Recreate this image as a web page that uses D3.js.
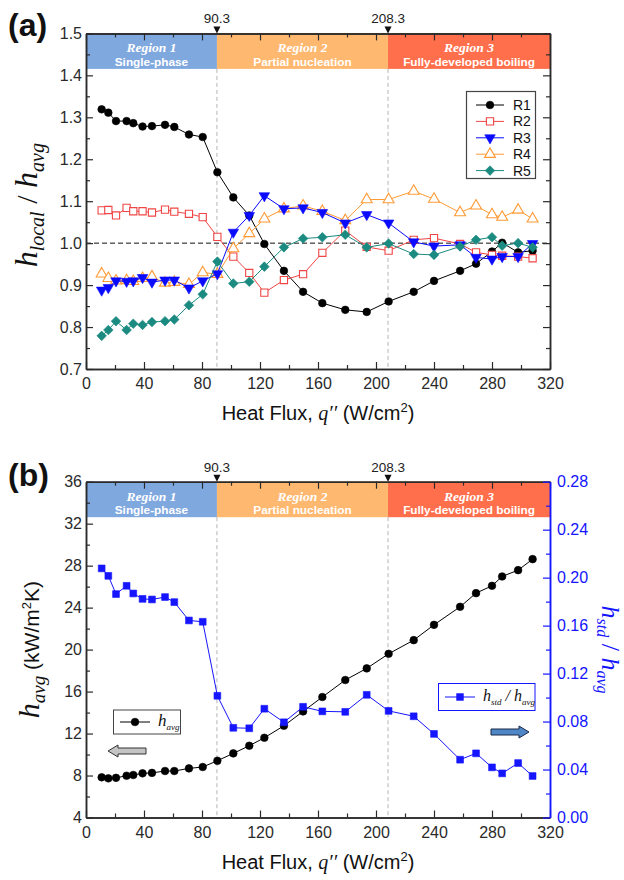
<!DOCTYPE html>
<html><head><meta charset="utf-8">
<script src="https://cdn.jsdelivr.net/npm/d3@7"></script>
<style>body{margin:0;background:#fff}svg{display:block}</style>
</head><body>
<svg id="chart" width="624" height="880"></svg>
<script>
// ---------------- data ----------------
const heatFlux = [10.8,15.4,20.7,28,32.6,39,45.5,54.5,60.9,71,80.5,90.6,101.6,112.6,123,136.5,149.7,163,178.8,193.6,208.7,226,240,258,269,280,287,298,308];
const r1 = [1.319,1.311,1.291,1.291,1.286,1.278,1.279,1.282,1.277,1.259,1.253,1.169,1.109,1.066,0.998,0.934,0.884,0.857,0.841,0.836,0.861,0.884,0.910,0.934,0.951,0.980,1.001,0.978,0.982];
const r2 = [1.078,1.079,1.066,1.084,1.076,1.076,1.073,1.080,1.075,1.070,1.062,1.015,0.968,0.929,0.882,0.912,0.926,0.977,1.030,0.991,0.982,1.008,1.012,0.998,0.978,0.972,0.970,0.968,0.964];
const r3 = [0.888,0.894,0.910,0.909,0.910,0.918,0.907,0.912,0.912,0.893,0.910,0.927,1.026,1.066,1.113,1.082,1.084,1.073,1.048,1.068,1.048,1.003,0.993,0.996,0.966,0.962,0.968,0.968,0.999];
const r4 = [0.927,0.916,0.910,0.911,0.909,0.916,0.920,0.905,0.907,0.902,0.930,0.926,0.987,1.023,1.058,1.082,1.089,1.076,1.054,1.104,1.104,1.124,1.105,1.073,1.089,1.068,1.062,1.079,1.058];
const r5 = [0.779,0.793,0.814,0.793,0.808,0.805,0.812,0.814,0.818,0.852,0.878,0.956,0.904,0.908,0.944,0.990,1.011,1.014,1.020,0.990,0.999,0.974,0.972,0.992,1.008,1.014,0.994,1.000,0.990];
const hAvg = [7.83,7.73,7.78,7.98,8.05,8.21,8.25,8.43,8.43,8.68,8.81,9.41,10.11,10.84,11.60,12.74,14.11,15.48,17.10,18.21,19.60,20.90,22.36,24.08,25.38,26.08,26.97,27.57,28.62];
const hStdRatio = [0.2077,0.2015,0.1863,0.1932,0.1868,0.1823,0.1818,0.1838,0.1796,0.1643,0.1632,0.1015,0.0748,0.0744,0.0907,0.0794,0.0923,0.0885,0.0881,0.1023,0.0889,0.0844,0.0697,0.0482,0.0535,0.0418,0.0368,0.0454,0.0346];

const seriesNames = ["R1","R2","R3","R4","R5"];
const regionBounds = [0, 90.3, 208.3, 320];
const boundaryLabels = ["90.3","208.3"];
const regionTitles = ["Region 1","Region 2","Region 3"];
const regionNames = ["Single-phase","Partial nucleation","Fully-developed boiling"];
const xTicks = [0,40,80,120,160,200,240,280,320];
const ratioTicks = [0.7,0.8,0.9,1.0,1.1,1.2,1.3,1.4,1.5];
const hTicks = [4,8,12,16,20,24,28,32,36];
const stdTicks = [0,0.04,0.08,0.12,0.16,0.20,0.24,0.28];

// ---------------- styles ----------------
const FONT = "'Liberation Sans', Arial, sans-serif";
const SERIF = "'Liberation Serif', 'Times New Roman', serif";
const regionColors = ["#7fa8df","#ffb86f","#ff6f4c"];
const seriesStyle = [
  {color:"#000000", type:d3.symbolCircle, size:46, fill:true, rot:0},
  {color:"#f04545", type:d3.symbolSquare, size:52, fill:false, rot:0},
  {color:"#0a0aff", type:d3.symbolTriangle, size:48, fill:true, rot:180},
  {color:"#ff9a35", type:d3.symbolTriangle, size:52, fill:false, rot:0},
  {color:"#1b8a80", type:d3.symbolSquare, size:46, fill:true, rot:45}
];
const BLUE = "#1515ff";
const AXIS = "#2a2a2a";

const svg = d3.select("#chart");
const x = d3.scaleLinear().domain([0,320]).range([86,550]);
const xMinor = d3.range(20,320,40);

function styleAxis(sel, color){
  sel.select(".domain").attr("stroke",color).attr("stroke-width",1.5);
  sel.selectAll(".tick line").attr("stroke",color).attr("stroke-width",1.2);
  sel.selectAll(".tick text").attr("font-family",FONT).attr("font-size",16).attr("fill",color);
}

function drawBackground(top, bottom){
  const bandH = 35.5;
  const regions = regionTitles.map((t,i)=>({t, n:regionNames[i], a:regionBounds[i], b:regionBounds[i+1], c:regionColors[i]}));
  const g = svg.append("g");
  g.selectAll("rect").data(regions).join("rect")
    .attr("x",d=>x(d.a)).attr("y",top).attr("width",d=>x(d.b)-x(d.a)).attr("height",bandH)
    .attr("fill",d=>d.c);
  g.selectAll("text.rt").data(regions).join("text").attr("class","rt")
    .attr("x",d=>(x(d.a)+x(d.b))/2).attr("y",top+19).attr("text-anchor","middle")
    .attr("font-family",SERIF).attr("font-style","italic").attr("font-weight","bold")
    .attr("font-size",13.5).attr("fill","#fff").text(d=>d.t);
  g.selectAll("text.rn").data(regions).join("text").attr("class","rn")
    .attr("x",d=>(x(d.a)+x(d.b))/2).attr("y",top+32.5).attr("text-anchor","middle")
    .attr("font-family",FONT).attr("font-weight","bold")
    .attr("font-size",11.8).attr("fill","#fff").text(d=>d.n);
  const bounds = regionBounds.slice(1,3);
  g.selectAll("line.vd").data(bounds).join("line").attr("class","vd")
    .attr("x1",d=>x(d)).attr("x2",d=>x(d)).attr("y1",top+bandH).attr("y2",bottom)
    .attr("stroke","#b4b4b4").attr("stroke-width",1).attr("stroke-dasharray","4,3");
  g.selectAll("path.bm").data(bounds).join("path").attr("class","bm")
    .attr("d",d=>`M${x(d)-3.5},${top-7}L${x(d)+3.5},${top-7}L${x(d)},${top}Z`).attr("fill","#111");
  g.selectAll("text.bl").data(bounds).join("text").attr("class","bl")
    .attr("x",d=>x(d)).attr("y",top-10).attr("text-anchor","middle")
    .attr("font-family",FONT).attr("font-size",13.5).attr("fill","#222")
    .text((d,i)=>boundaryLabels[i]);
}

function drawXAxes(top, bottom){
  const gb = svg.append("g").attr("transform",`translate(0,${bottom})`)
    .call(d3.axisBottom(x).tickValues(xTicks).tickSize(-7).tickSizeOuter(0).tickPadding(9).tickFormat(d3.format("d")));
  styleAxis(gb, AXIS);
  const gbm = svg.append("g").attr("transform",`translate(0,${bottom})`)
    .call(d3.axisBottom(x).tickValues(xMinor).tickSize(-4).tickSizeOuter(0).tickFormat(""));
  styleAxis(gbm, AXIS);
  const gt = svg.append("g").attr("transform",`translate(0,${top})`)
    .call(d3.axisTop(x).tickValues(xTicks).tickSize(-7).tickSizeOuter(0).tickFormat(""));
  styleAxis(gt, AXIS);
  const gtm = svg.append("g").attr("transform",`translate(0,${top})`)
    .call(d3.axisTop(x).tickValues(xMinor).tickSize(-4).tickSizeOuter(0).tickFormat(""));
  styleAxis(gtm, AXIS);
  // x title
  const t = svg.append("text").attr("x",318).attr("y",bottom+51).attr("text-anchor","middle")
    .attr("font-family",FONT).attr("font-size",20).attr("fill","#111");
  t.append("tspan").text("Heat Flux, ");
  t.append("tspan").attr("font-family",SERIF).attr("font-style","italic").text("q\u2032\u2032");
  t.append("tspan").text(" (W/cm");
  t.append("tspan").attr("font-size",13).attr("dy",-8).text("2");
  t.append("tspan").attr("dy",8).text(")");
}

function drawYAxis(scale, ticks, minor, fmt, side, color, labels){
  const xPos = side==="left" ? 86 : 550;
  const ax = side==="left" ? d3.axisLeft(scale) : d3.axisRight(scale);
  const g = svg.append("g").attr("transform",`translate(${xPos},0)`)
    .call(ax.tickValues(ticks).tickSize(-7).tickSizeOuter(0).tickPadding(side==="left"?4:7).tickFormat(labels?d3.format(fmt):""));
  styleAxis(g, color);
  const ax2 = side==="left" ? d3.axisLeft(scale) : d3.axisRight(scale);
  const g2 = svg.append("g").attr("transform",`translate(${xPos},0)`)
    .call(ax2.tickValues(minor).tickSize(-4).tickSizeOuter(0).tickFormat(""));
  styleAxis(g2, color);
}

function drawMarker(sel, st){
  sel.append("path").attr("d",d3.symbol().type(st.type).size(st.size)())
    .attr("transform",`rotate(${st.rot})`)
    .attr("fill",st.fill?st.color:"#fff").attr("stroke",st.color).attr("stroke-width",st.fill?0.6:1.1);
}

function drawSeries(values, scale, st){
  const pts = heatFlux.map((q,i)=>[q, values[i]]);
  svg.append("path").datum(pts)
    .attr("d",d3.line().x(d=>x(d[0])).y(d=>scale(d[1])))
    .attr("fill","none").attr("stroke",st.color).attr("stroke-width",1);
  const g = svg.append("g");
  pts.forEach(p=>{
    const m = g.append("g").attr("transform",`translate(${x(p[0])},${scale(p[1])})`);
    drawMarker(m, st);
  });
}

// ================= PANEL (a) =================
const topA = 33.4, botA = 369;
const yA = d3.scaleLinear().domain([0.7,1.5]).range([botA, topA]);
drawBackground(topA, botA);
svg.append("line").attr("x1",86).attr("x2",550).attr("y1",yA(1.0)).attr("y2",yA(1.0))
  .attr("stroke","#111").attr("stroke-width",1).attr("stroke-dasharray","5,3");
const seriesA = [r1,r2,r3,r4,r5];
[0,1,3,2,4].forEach(i=>drawSeries(seriesA[i], yA, seriesStyle[i]));
drawXAxes(topA, botA);
const ratioMinor = d3.range(0.75,1.5,0.1);
drawYAxis(yA, ratioTicks, ratioMinor, ".1f", "left", AXIS, true);
drawYAxis(yA, ratioTicks, ratioMinor, ".1f", "right", AXIS, false);

// legend (a)
const legA = svg.append("g");
legA.append("rect").attr("x",466.5).attr("y",91.5).attr("width",69).attr("height",87)
  .attr("fill","#fff").attr("stroke","#444").attr("stroke-width",1.2);
seriesNames.forEach((n,i)=>{
  const yy = 105 + i*16.4;
  const st = seriesStyle[i];
  legA.append("line").attr("x1",476).attr("x2",504).attr("y1",yy).attr("y2",yy).attr("stroke",st.color).attr("stroke-width",1);
  drawMarker(legA.append("g").attr("transform",`translate(490,${yy})`), st);
  legA.append("text").attr("x",513).attr("y",yy+5).attr("font-family",FONT).attr("font-size",14).attr("fill","#111").text(n);
});

// y title (a)
const tA = svg.append("text").attr("transform",`translate(37,${(topA+botA)/2 + 4}) rotate(-90)`)
  .attr("text-anchor","middle").attr("font-family",SERIF).attr("font-style","italic").attr("fill","#111");
tA.append("tspan").attr("font-size",32).text("h");
tA.append("tspan").attr("font-size",20).attr("dy",7).text("local");
tA.append("tspan").attr("font-size",30).attr("dy",-7).attr("font-style","normal").text(" / ");
tA.append("tspan").attr("font-size",32).text("h");
tA.append("tspan").attr("font-size",20).attr("dy",7).text("avg");

svg.append("text").attr("x",8).attr("y",36).attr("font-family",FONT).attr("font-weight","bold")
  .attr("font-size",32).attr("fill","#111").text("(a)");

// ================= PANEL (b) =================
const topB = 481.7, botB = 817.5;
const yB = d3.scaleLinear().domain([4,36]).range([botB, topB]);
const yR = d3.scaleLinear().domain([0,0.28]).range([botB, topB]);
drawBackground(topB, botB);
drawSeries(hAvg, yB, {color:"#000", type:d3.symbolCircle, size:46, fill:true, rot:0});
drawSeries(hStdRatio, yR, {color:BLUE, type:d3.symbolSquare, size:46, fill:true, rot:0});
drawXAxes(topB, botB);
drawYAxis(yB, hTicks, d3.range(6,36,4), "d", "left", AXIS, true);
drawYAxis(yR, stdTicks, d3.range(0.02,0.28,0.04), ".2f", "right", BLUE, true);

// legend (b) left
const lb = svg.append("g");
lb.append("rect").attr("x",113.5).attr("y",710).attr("width",67).attr("height",24)
  .attr("fill","#fff").attr("stroke","#444").attr("stroke-width",1);
lb.append("line").attr("x1",120).attr("x2",150).attr("y1",722).attr("y2",722).attr("stroke","#000");
drawMarker(lb.append("g").attr("transform","translate(135,722)"), {color:"#000", type:d3.symbolCircle, size:46, fill:true, rot:0});
const lbt = lb.append("text").attr("x",158).attr("y",726).attr("font-family",SERIF).attr("font-style","italic").attr("fill","#111");
lbt.append("tspan").attr("font-size",17).text("h");
lbt.append("tspan").attr("font-size",9).attr("dy",4).text("avg");
lb.append("path").attr("d","M108,751 L118,745 L118,748 L146,748 L146,754 L118,754 L118,757 Z")
  .attr("fill","#c4c4c4").attr("stroke","#333").attr("stroke-width",1);

// legend (b) right
const rb = svg.append("g");
rb.append("rect").attr("x",438.5).attr("y",683.5).attr("width",96.5).attr("height",27)
  .attr("fill","#fff").attr("stroke",BLUE).attr("stroke-width",1);
rb.append("line").attr("x1",445).attr("x2",475).attr("y1",697).attr("y2",697).attr("stroke",BLUE);
drawMarker(rb.append("g").attr("transform","translate(460,697)"), {color:BLUE, type:d3.symbolSquare, size:46, fill:true, rot:0});
const rbt = rb.append("text").attr("x",483).attr("y",701).attr("font-family",SERIF).attr("font-style","italic").attr("fill","#111");
rbt.append("tspan").attr("font-size",16).text("h");
rbt.append("tspan").attr("font-size",9).attr("dy",4).text("std");
rbt.append("tspan").attr("font-size",16).attr("dy",-4).text(" / h");
rbt.append("tspan").attr("font-size",9).attr("dy",4).text("avg");
rb.append("path").attr("d","M529,732 L519,726 L519,729 L491,729 L491,735 L519,735 L519,738 Z")
  .attr("fill","#4f86c6").attr("stroke","#1a2a4a").attr("stroke-width",1);

// y title (b) left
const tB = svg.append("text").attr("transform",`translate(39,${(topB+botB)/2}) rotate(-90)`)
  .attr("text-anchor","middle").attr("fill","#111");
tB.append("tspan").attr("font-family",SERIF).attr("font-style","italic").attr("font-size",30).text("h");
tB.append("tspan").attr("font-family",SERIF).attr("font-style","italic").attr("font-size",19).attr("dy",6).text("avg");
tB.append("tspan").attr("font-family",FONT).attr("font-size",21).attr("dy",-6).text(" (kW/m");
tB.append("tspan").attr("font-family",FONT).attr("font-size",13).attr("dy",-8).text("2");
tB.append("tspan").attr("font-family",FONT).attr("font-size",21).attr("dy",8).text("K)");

// y title (b) right
const tR = svg.append("text").attr("transform",`translate(602,${(topB+botB)/2}) rotate(90)`)
  .attr("text-anchor","middle").attr("font-family",SERIF).attr("font-style","italic").attr("fill",BLUE);
tR.append("tspan").attr("font-size",26).text("h");
tR.append("tspan").attr("font-size",16).attr("dy",5).text("std");
tR.append("tspan").attr("font-size",26).attr("dy",-5).attr("font-style","normal").text(" / ");
tR.append("tspan").attr("font-size",26).text("h");
tR.append("tspan").attr("font-size",16).attr("dy",5).text("avg");

svg.append("text").attr("x",8).attr("y",486).attr("font-family",FONT).attr("font-weight","bold")
  .attr("font-size",32).attr("fill","#111").text("(b)");
</script>
</body></html>
